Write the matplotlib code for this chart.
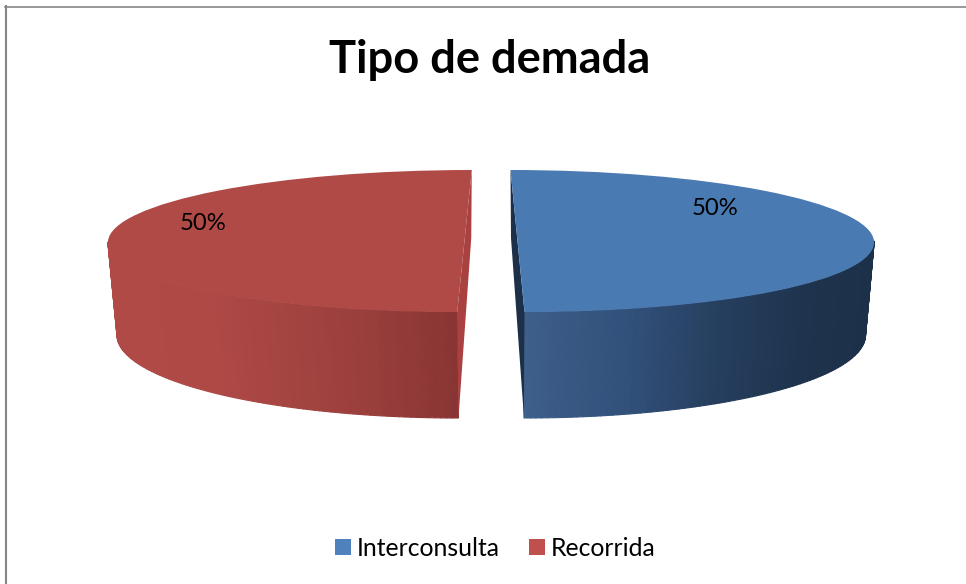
import numpy as np
import matplotlib
matplotlib.use("Agg")
import matplotlib.pyplot as plt
from matplotlib.collections import PolyCollection
from matplotlib.patches import Patch, Polygon
from matplotlib.transforms import Affine2D

categories = ["Interconsulta", "Recorrida"]
values = [50, 50]
title = "Tipo de demada"

top_colors = ["#4A7AB2", "#B04A47"]
legend_colors = ["#4F81BD", "#C0504D"]
inner_colors = ["#1D3049", "#A8413F"]
side_stops = [([0, 0.3, 0.55, 0.8, 1], ["#3E5F8A", "#31507A", "#263F5F", "#1E334D", "#1D3049"]),
              ([-1, -0.7, -0.3, 0], ["#B04A47", "#AE4946", "#9C403D", "#883533"])]

# pixel layout of the pie
W, H = 966, 584
RX, RY = 356.5, 71
CX, CY = 491, 241
GAP = 26.5
BOTTOM_Y, BOTTOM_RY, BOTTOM_RX = 335, 83, 341.5
BOTTOM_X = [524, 458.5]
SKEW = [-7.0, 7.25]

plt.rcParams["font.family"] = ["Lato", "DejaVu Sans"]

fig = plt.figure(figsize=(W / 100, H / 100), dpi=100)
ax = fig.add_axes([0, 0, 1, 1])

wedges, texts, autotexts = ax.pie(
    values,
    explode=[GAP / RX] * len(values),
    colors=top_colors,
    startangle=90,
    counterclock=False,
    autopct="%1.0f%%",
    wedgeprops={"linewidth": 0, "zorder": 3},
    textprops={"fontsize": 17.2, "color": "black", "zorder": 5},
)
ax.set_aspect("auto")
ax.set_xlim(-CX / RX, (W - CX) / RX)
ax.set_ylim((CY - H) / RY, CY / RY)
ax.axis("off")


def to_data(px, py):
    return (px - CX) / RX, (CY - py) / RY


for i, w in enumerate(wedges):
    side = 1 if i == 0 else -1
    # lean of the cut edge, the 3d view is not a plain ellipse
    w.set_transform(Affine2D.from_values(1, 0, SKEW[i] / RX, 1, 0, 0) + ax.transData)

    xc = (CX + side * GAP)
    angles = np.radians(np.linspace(w.theta1, w.theta2, 181))
    angles = angles[np.sin(angles) <= 1e-9]
    u, v = np.cos(angles), np.sin(angles)

    top = np.column_stack([xc + RX * u + SKEW[i] * v, CY - RY * v])
    bot = np.column_stack([BOTTOM_X[i] + BOTTOM_RX * u, BOTTOM_Y - BOTTOM_RY * v])
    stops, cols = side_stops[i]
    rgb = np.array([matplotlib.colors.to_rgb(c) for c in cols])
    polys, colors = [], []
    for j in range(len(u) - 1):
        quad = np.array([top[j], top[j + 1], bot[j + 1], bot[j]])
        polys.append(np.column_stack(to_data(quad[:, 0], quad[:, 1])))
        um = (u[j] + u[j + 1]) / 2
        colors.append([np.interp(um, stops, rgb[:, k]) for k in range(3)])
    ax.add_collection(PolyCollection(polys, facecolors=colors, edgecolors=colors,
                                     linewidths=0.8, zorder=2))

    # cut face seen through the gap
    back_x = xc - SKEW[i] * -1
    face = [(back_x, CY - RY), (back_x + side * 0.5, 238),
            (BOTTOM_X[i], BOTTOM_Y + BOTTOM_RY), (xc - SKEW[i], CY + RY)]
    ax.add_patch(Polygon([to_data(*p) for p in face], closed=True,
                         facecolor=inner_colors[i], edgecolor="none", zorder=2.5))

autotexts[0].set_position(to_data(715.5, 208.5))
autotexts[1].set_position(to_data(203, 223.5))

fig.text(490 / W, 1 - 60 / H, title, fontsize=32.6, fontweight="bold",
         ha="center", va="center", color="black")

handles = [Patch(facecolor=c, edgecolor="none") for c in legend_colors]
fig.legend(handles, categories, loc="center", bbox_to_anchor=(495.5 / W, 1 - 548 / H),
           ncol=2, frameon=False, fontsize=17.8, handlelength=0.62, handleheight=0.62,
           handletextpad=0.25, columnspacing=1.2, borderpad=0)

# chart border, only left and top show in the crop
fig.add_artist(plt.Line2D([6 / W, 6 / W], [0, 1 - 6 / H], color="#868686", lw=1.5))
fig.add_artist(plt.Line2D([5 / W, 1], [1 - 6.5 / H, 1 - 6.5 / H], color="#868686", lw=1.2))

fig.savefig("out.png", dpi=100)
